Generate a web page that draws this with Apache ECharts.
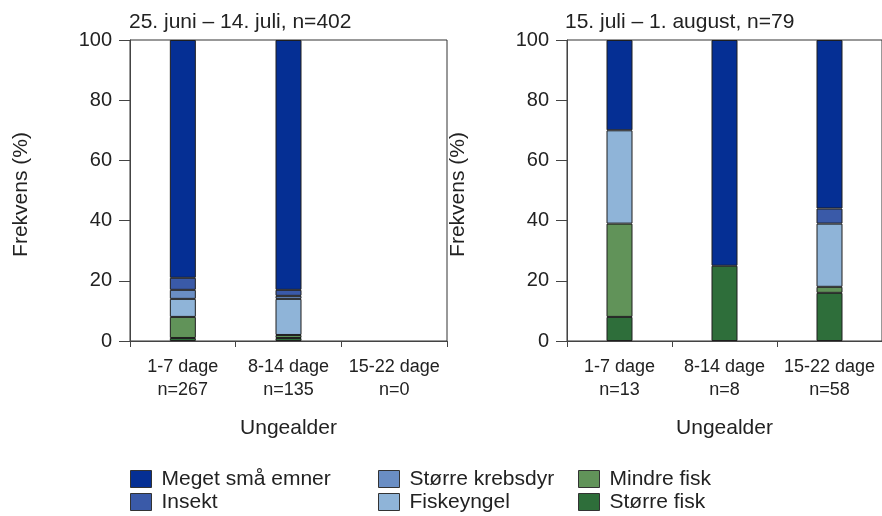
<!DOCTYPE html>
<html><head><meta charset="utf-8">
<script src="https://cdn.jsdelivr.net/npm/echarts@6/dist/echarts.min.js"></script>
<style>html,body{margin:0;padding:0;background:#fff}#c{width:882px;height:516px}</style>
</head><body><div id="c"></div>
<script>
const categoriesLeft = ['1-7 dage\nn=267', '8-14 dage\nn=135', '15-22 dage\nn=0'];
const categoriesRight = ['1-7 dage\nn=13', '8-14 dage\nn=8', '15-22 dage\nn=58'];
const titleLeft = '25. juni – 14. juli, n=402';
const titleRight = '15. juli – 1. august, n=79';
const seriesNames = ['Større fisk', 'Mindre fisk', 'Fiskeyngel', 'Større krebsdyr', 'Insekt', 'Meget små emner'];
const seriesColors = ['#2e6e3a', '#619359', '#8fb4d8', '#6a8ec4', '#3a5aa8', '#052f94'];
// left panel values (%), bottom to top
const leftStorreFisk = [1, 1, null];
const leftMindreFisk = [7, 1, null];
const leftFiskeyngel = [6, 12, null];
const leftKrebsdyr = [3, 1, null];
const leftInsekt = [4, 2, null];
const leftMegetSmaa = [79, 83, null];
// right panel values (%)
const rightStorreFisk = [8, 25, 16];
const rightMindreFisk = [31, null, 2];
const rightFiskeyngel = [31, null, 21];
const rightKrebsdyr = [null, null, null];
const rightInsekt = [null, null, 5];
const rightMegetSmaa = [30, 75, 56];
const yTicks = [0, 20, 40, 60, 80, 100];
// legend layout order (column-wise)
const legendOrder = ['Meget små emner', 'Insekt', 'Større krebsdyr', 'Fiskeyngel', 'Mindre fisk', 'Større fisk'];

const leftData = [leftStorreFisk, leftMindreFisk, leftFiskeyngel, leftKrebsdyr, leftInsekt, leftMegetSmaa];
const rightData = [rightStorreFisk, rightMindreFisk, rightFiskeyngel, rightKrebsdyr, rightInsekt, rightMegetSmaa];

const FONT = 'Liberation Sans, Arial, sans-serif';
const txt = '#222';
const axisLineColor = '#444';

function makeX(idx, cats) {
  return {
    type: 'category', gridIndex: idx, data: cats,
    name: 'Ungealder', nameLocation: 'middle', nameGap: 77,
    nameTextStyle: {fontSize: 21, color: txt, fontFamily: FONT},
    axisLine: {lineStyle: {color: axisLineColor, width: 1}},
    axisTick: {show: true, length: 6, alignWithLabel: false, lineStyle: {color: axisLineColor}},
    axisLabel: {interval: 0, hideOverlap: false, fontSize: 18, color: txt, fontFamily: FONT, lineHeight: 22.5, margin: 15},
    splitLine: {show: false}
  };
}
function makeY(idx) {
  return {
    type: 'value', gridIndex: idx, min: yTicks[0], max: yTicks[yTicks.length - 1], interval: 20,
    name: 'Frekvens (%)', nameLocation: 'middle', nameRotate: 90, nameGap: 98,
    nameTextStyle: {fontSize: 21, color: txt, fontFamily: FONT, padding: [0, 8, 0, 0]},
    axisLine: {show: true, lineStyle: {color: axisLineColor, width: 1}},
    axisTick: {show: true, length: 11, lineStyle: {color: axisLineColor}},
    axisLabel: {fontSize: 20, color: txt, fontFamily: FONT, margin: 18},
    splitLine: {show: false}
  };
}

const series = [];
[leftData, rightData].forEach((panel, gi) => {
  panel.forEach((vals, i) => {
    series.push({
      type: 'bar', name: seriesNames[i], xAxisIndex: gi, yAxisIndex: gi,
      stack: 'panel' + gi, data: vals, barWidth: 26,
      itemStyle: {color: seriesColors[i], borderColor: '#1e1e1e', borderWidth: 1},
      emphasis: {disabled: true}, animation: false
    });
  });
});

const legendCols = [130, 378, 578];
const legendRows = [468.5, 491.5];
const legends = legendOrder.map((name, k) => ({
  left: legendCols[Math.floor(k / 2)], top: legendRows[k % 2], padding: 0,
  itemWidth: 21, itemHeight: 17, icon: 'rect', selectedMode: false, data: [name],
  itemStyle: {borderColor: '#333', borderWidth: 1},
  textStyle: {fontSize: 21, color: txt, fontFamily: FONT, padding: [0, 0, 0, 5]}
}));

const option = {
  animation: false,
  backgroundColor: '#fff',
  title: [
    {text: titleLeft, left: 129, top: 12, padding: 0, textStyle: {fontSize: 21, fontWeight: 'normal', color: txt, fontFamily: FONT}},
    {text: titleRight, left: 565, top: 12, padding: 0, textStyle: {fontSize: 21, fontWeight: 'normal', color: txt, fontFamily: FONT}}
  ],
  grid: [
    {left: 130, top: 40, width: 317, height: 301, show: true, borderColor: '#333', borderWidth: 1},
    {left: 567, top: 40, width: 318, height: 301, show: true, borderColor: '#333', borderWidth: 1}
  ],
  xAxis: [makeX(0, categoriesLeft), makeX(1, categoriesRight)],
  yAxis: [makeY(0), makeY(1)],
  legend: legends,
  series: series
};
const chart = echarts.init(document.getElementById('c'), null, {renderer: 'canvas'});
chart.setOption(option);
</script></body></html>
